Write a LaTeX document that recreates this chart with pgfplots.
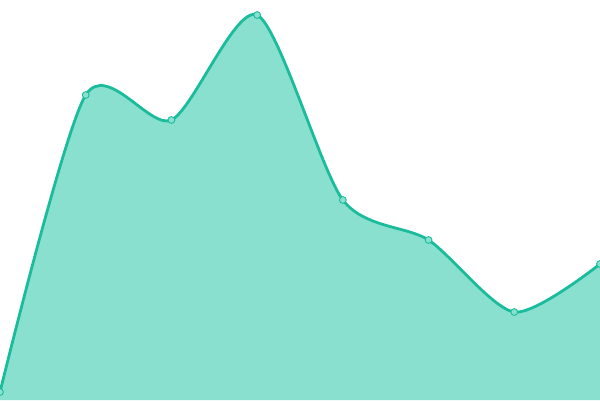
\documentclass[border=0pt]{standalone}
\usepackage{pgfplots}
\pgfplotsset{compat=1.18}
\definecolor{turq}{HTML}{1ABC9C}
\definecolor{turqfill}{HTML}{8AE0CE}
\begin{document}
\begin{tikzpicture}
\begin{axis}[
    width=300pt, height=200pt,
    scale only axis,
    hide axis,
    xmin=0, xmax=7,
    ymin=0, ymax=400,
    clip=true,
    clip marker paths=true,
]
% y values measured from the bottom of the plot area
\addplot[fill=turqfill, draw=none, smooth, tension=0.45] coordinates {
    (0,8) (1,305) (2,280) (3,385) (4,200) (5,160) (6,88) (7,136)
} \closedcycle;
\addplot[turq, line width=1.4pt, smooth, tension=0.45,
    mark=*, mark size=1.7pt,
    mark options={fill=turqfill, draw=turq, line width=0.45pt}] coordinates {
    (0,8) (1,305) (2,280) (3,385) (4,200) (5,160) (6,88) (7,136)
};
\end{axis}
\pgfresetboundingbox
\path (current axis.south west) rectangle (current axis.north east);
\end{tikzpicture}
\end{document}
